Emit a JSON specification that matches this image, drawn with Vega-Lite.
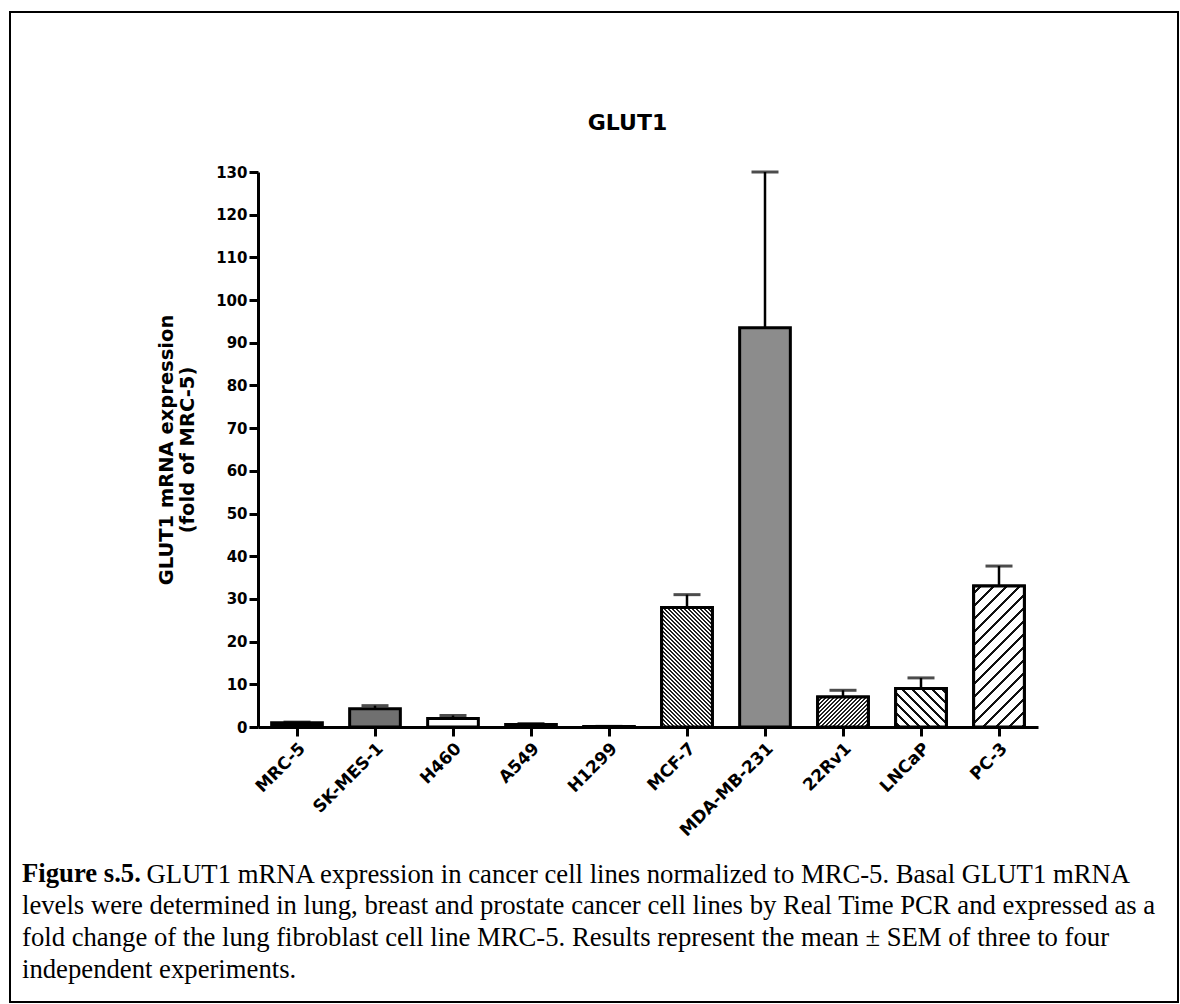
{
  "$schema": "https://vega.github.io/schema/vega-lite/v6.json",
  "autosize": "none",
  "width": 1168,
  "height": 990,
  "padding": {"left": 10, "top": 12, "right": 2, "bottom": 2},
  "background": "white",
  "config": {
    "view": {"stroke": "black", "strokeWidth": 2},
    "axis": {"grid": false}
  },
  "title": {
    "text": "Figure s.5.",
    "subtitle": [
      "levels were determined in lung, breast and prostate cancer cell lines by Real Time PCR and expressed as a",
      "fold change of the lung fibroblast cell line MRC-5. Results represent the mean ± SEM of three to four",
      "independent experiments."
    ],
    "orient": "bottom",
    "anchor": "start",
    "frame": "group",
    "offset": -141,
    "dx": 12,
    "font": "Liberation Serif",
    "fontSize": 26.7,
    "fontWeight": "bold",
    "color": "black",
    "subtitleFont": "Liberation Serif",
    "subtitleFontSize": 26.7,
    "subtitleFontWeight": "normal",
    "subtitleColor": "black",
    "subtitleLineHeight": 32,
    "subtitlePadding": 5
  },
  "data": {
    "values": [
      {"cell": "MRC-5", "value": 1.0, "err": 0.15},
      {"cell": "SK-MES-1", "value": 4.3, "err": 0.7},
      {"cell": "H460", "value": 2.0, "err": 0.7},
      {"cell": "A549", "value": 0.6, "err": 0.2},
      {"cell": "H1299", "value": 0.1, "err": 0.05},
      {"cell": "MCF-7", "value": 28.0, "err": 3.0},
      {"cell": "MDA-MB-231", "value": 93.5, "err": 36.5},
      {"cell": "22Rv1", "value": 7.0, "err": 1.6},
      {"cell": "LNCaP", "value": 9.0, "err": 2.5},
      {"cell": "PC-3", "value": 33.0, "err": 4.7}
    ]
  },
  "transform": [{"calculate": "datum.value + datum.err", "as": "upper"}],
  "resolve": {"axis": {"x": "independent"}},
  "layer": [
    {
      "mark": {"type": "bar", "stroke": "black", "strokeWidth": 3},
      "encoding": {
        "x": {
          "field": "cell", "type": "nominal", "sort": null,
          "scale": {"range": [248, 1028], "paddingInner": 0.35, "paddingOuter": 0.175},
          "axis": {
            "orient": "bottom", "offset": -275,
            "title": "GLUT1 mRNA expression in cancer cell lines normalized to MRC-5. Basal GLUT1 mRNA",
            "titleFont": "Liberation Serif", "titleFontWeight": "normal", "titleFontSize": 26.7,
            "titleColor": "black", "titleAlign": "left", "titleBaseline": "alphabetic",
            "titleX": 136, "titleY": 155,
            "domainColor": "black", "domainWidth": 3,
            "tickColor": "black", "tickWidth": 3, "tickSize": 9,
            "labelAngle": -45, "labelFont": "DejaVu Sans", "labelFontWeight": "bold",
            "labelFontSize": 17, "labelColor": "black", "labelPadding": 4
          }
        },
        "y": {
          "field": "value", "type": "quantitative",
          "scale": {"domain": [0, 130], "range": [715, 160], "nice": false},
          "axis": {
            "orient": "left", "offset": -248,
            "values": [0, 10, 20, 30, 40, 50, 60, 70, 80, 90, 100, 110, 120, 130],
            "title": ["GLUT1 mRNA expression", "(fold of MRC-5)"],
            "titleFont": "DejaVu Sans", "titleFontWeight": "bold", "titleFontSize": 19.5,
            "titleColor": "black", "titlePadding": 18, "titleLineHeight": 21,
            "domainColor": "black", "domainWidth": 3,
            "tickColor": "black", "tickWidth": 3, "tickSize": 9,
            "labelFont": "DejaVu Sans", "labelFontWeight": "bold",
            "labelFontSize": 15, "labelColor": "black", "labelPadding": 2
          }
        },
        "fill": {
          "field": "cell", "type": "nominal", "legend": null,
          "scale": {
            "domain": ["MRC-5", "SK-MES-1", "H460", "A549", "H1299", "MCF-7", "MDA-MB-231", "22Rv1", "LNCaP", "PC-3"],
            "range": ["#000000", "#707070", "#ffffff", "#000000", "#000000", "#ffffff", "#8c8c8c", "#ffffff", "#ffffff", "#ffffff"]
          }
        }
      }
    },
    {
      "transform": [{"filter": "datum.cell === 'MCF-7'"}],
      "mark": {
        "type": "bar", "stroke": "black", "strokeWidth": 3,
        "fill": {
          "gradient": "linear", "x1": 0, "y1": 1, "x2": 0.5121, "y2": -0.207,
          "stops": [
            {"offset": 0.0000, "color": "#222222"}, {"offset": 0.0106, "color": "#222222"}, {"offset": 0.0106, "color": "#ffffff"},
            {"offset": 0.0235, "color": "#ffffff"}, {"offset": 0.0235, "color": "#222222"}, {"offset": 0.0341, "color": "#222222"}, {"offset": 0.0341, "color": "#ffffff"},
            {"offset": 0.0470, "color": "#ffffff"}, {"offset": 0.0470, "color": "#222222"}, {"offset": 0.0576, "color": "#222222"}, {"offset": 0.0576, "color": "#ffffff"},
            {"offset": 0.0705, "color": "#ffffff"}, {"offset": 0.0705, "color": "#222222"}, {"offset": 0.0811, "color": "#222222"}, {"offset": 0.0811, "color": "#ffffff"},
            {"offset": 0.0940, "color": "#ffffff"}, {"offset": 0.0940, "color": "#222222"}, {"offset": 0.1046, "color": "#222222"}, {"offset": 0.1046, "color": "#ffffff"},
            {"offset": 0.1175, "color": "#ffffff"}, {"offset": 0.1175, "color": "#222222"}, {"offset": 0.1281, "color": "#222222"}, {"offset": 0.1281, "color": "#ffffff"},
            {"offset": 0.1410, "color": "#ffffff"}, {"offset": 0.1410, "color": "#222222"}, {"offset": 0.1516, "color": "#222222"}, {"offset": 0.1516, "color": "#ffffff"},
            {"offset": 0.1645, "color": "#ffffff"}, {"offset": 0.1645, "color": "#222222"}, {"offset": 0.1751, "color": "#222222"}, {"offset": 0.1751, "color": "#ffffff"},
            {"offset": 0.1880, "color": "#ffffff"}, {"offset": 0.1880, "color": "#222222"}, {"offset": 0.1986, "color": "#222222"}, {"offset": 0.1986, "color": "#ffffff"},
            {"offset": 0.2115, "color": "#ffffff"}, {"offset": 0.2115, "color": "#222222"}, {"offset": 0.2221, "color": "#222222"}, {"offset": 0.2221, "color": "#ffffff"},
            {"offset": 0.2350, "color": "#ffffff"}, {"offset": 0.2350, "color": "#222222"}, {"offset": 0.2456, "color": "#222222"}, {"offset": 0.2456, "color": "#ffffff"},
            {"offset": 0.2585, "color": "#ffffff"}, {"offset": 0.2585, "color": "#222222"}, {"offset": 0.2691, "color": "#222222"}, {"offset": 0.2691, "color": "#ffffff"},
            {"offset": 0.2820, "color": "#ffffff"}, {"offset": 0.2820, "color": "#222222"}, {"offset": 0.2926, "color": "#222222"}, {"offset": 0.2926, "color": "#ffffff"},
            {"offset": 0.3055, "color": "#ffffff"}, {"offset": 0.3055, "color": "#222222"}, {"offset": 0.3161, "color": "#222222"}, {"offset": 0.3161, "color": "#ffffff"},
            {"offset": 0.3290, "color": "#ffffff"}, {"offset": 0.3290, "color": "#222222"}, {"offset": 0.3396, "color": "#222222"}, {"offset": 0.3396, "color": "#ffffff"},
            {"offset": 0.3525, "color": "#ffffff"}, {"offset": 0.3525, "color": "#222222"}, {"offset": 0.3631, "color": "#222222"}, {"offset": 0.3631, "color": "#ffffff"},
            {"offset": 0.3760, "color": "#ffffff"}, {"offset": 0.3760, "color": "#222222"}, {"offset": 0.3866, "color": "#222222"}, {"offset": 0.3866, "color": "#ffffff"},
            {"offset": 0.3995, "color": "#ffffff"}, {"offset": 0.3995, "color": "#222222"}, {"offset": 0.4101, "color": "#222222"}, {"offset": 0.4101, "color": "#ffffff"},
            {"offset": 0.4230, "color": "#ffffff"}, {"offset": 0.4230, "color": "#222222"}, {"offset": 0.4336, "color": "#222222"}, {"offset": 0.4336, "color": "#ffffff"},
            {"offset": 0.4465, "color": "#ffffff"}, {"offset": 0.4465, "color": "#222222"}, {"offset": 0.4571, "color": "#222222"}, {"offset": 0.4571, "color": "#ffffff"},
            {"offset": 0.4700, "color": "#ffffff"}, {"offset": 0.4700, "color": "#222222"}, {"offset": 0.4806, "color": "#222222"}, {"offset": 0.4806, "color": "#ffffff"},
            {"offset": 0.4935, "color": "#ffffff"}, {"offset": 0.4935, "color": "#222222"}, {"offset": 0.5041, "color": "#222222"}, {"offset": 0.5041, "color": "#ffffff"},
            {"offset": 0.5170, "color": "#ffffff"}, {"offset": 0.5170, "color": "#222222"}, {"offset": 0.5276, "color": "#222222"}, {"offset": 0.5276, "color": "#ffffff"},
            {"offset": 0.5405, "color": "#ffffff"}, {"offset": 0.5405, "color": "#222222"}, {"offset": 0.5511, "color": "#222222"}, {"offset": 0.5511, "color": "#ffffff"},
            {"offset": 0.5640, "color": "#ffffff"}, {"offset": 0.5640, "color": "#222222"}, {"offset": 0.5746, "color": "#222222"}, {"offset": 0.5746, "color": "#ffffff"},
            {"offset": 0.5875, "color": "#ffffff"}, {"offset": 0.5875, "color": "#222222"}, {"offset": 0.5981, "color": "#222222"}, {"offset": 0.5981, "color": "#ffffff"},
            {"offset": 0.6110, "color": "#ffffff"}, {"offset": 0.6110, "color": "#222222"}, {"offset": 0.6216, "color": "#222222"}, {"offset": 0.6216, "color": "#ffffff"},
            {"offset": 0.6345, "color": "#ffffff"}, {"offset": 0.6345, "color": "#222222"}, {"offset": 0.6451, "color": "#222222"}, {"offset": 0.6451, "color": "#ffffff"},
            {"offset": 0.6580, "color": "#ffffff"}, {"offset": 0.6580, "color": "#222222"}, {"offset": 0.6686, "color": "#222222"}, {"offset": 0.6686, "color": "#ffffff"},
            {"offset": 0.6815, "color": "#ffffff"}, {"offset": 0.6815, "color": "#222222"}, {"offset": 0.6921, "color": "#222222"}, {"offset": 0.6921, "color": "#ffffff"},
            {"offset": 0.7050, "color": "#ffffff"}, {"offset": 0.7050, "color": "#222222"}, {"offset": 0.7156, "color": "#222222"}, {"offset": 0.7156, "color": "#ffffff"},
            {"offset": 0.7285, "color": "#ffffff"}, {"offset": 0.7285, "color": "#222222"}, {"offset": 0.7391, "color": "#222222"}, {"offset": 0.7391, "color": "#ffffff"},
            {"offset": 0.7520, "color": "#ffffff"}, {"offset": 0.7520, "color": "#222222"}, {"offset": 0.7626, "color": "#222222"}, {"offset": 0.7626, "color": "#ffffff"},
            {"offset": 0.7755, "color": "#ffffff"}, {"offset": 0.7755, "color": "#222222"}, {"offset": 0.7861, "color": "#222222"}, {"offset": 0.7861, "color": "#ffffff"},
            {"offset": 0.7990, "color": "#ffffff"}, {"offset": 0.7990, "color": "#222222"}, {"offset": 0.8096, "color": "#222222"}, {"offset": 0.8096, "color": "#ffffff"},
            {"offset": 0.8225, "color": "#ffffff"}, {"offset": 0.8225, "color": "#222222"}, {"offset": 0.8331, "color": "#222222"}, {"offset": 0.8331, "color": "#ffffff"},
            {"offset": 0.8460, "color": "#ffffff"}, {"offset": 0.8460, "color": "#222222"}, {"offset": 0.8566, "color": "#222222"}, {"offset": 0.8566, "color": "#ffffff"},
            {"offset": 0.8695, "color": "#ffffff"}, {"offset": 0.8695, "color": "#222222"}, {"offset": 0.8801, "color": "#222222"}, {"offset": 0.8801, "color": "#ffffff"},
            {"offset": 0.8930, "color": "#ffffff"}, {"offset": 0.8930, "color": "#222222"}, {"offset": 0.9036, "color": "#222222"}, {"offset": 0.9036, "color": "#ffffff"},
            {"offset": 0.9165, "color": "#ffffff"}, {"offset": 0.9165, "color": "#222222"}, {"offset": 0.9271, "color": "#222222"}, {"offset": 0.9271, "color": "#ffffff"},
            {"offset": 0.9400, "color": "#ffffff"}, {"offset": 0.9400, "color": "#222222"}, {"offset": 0.9506, "color": "#222222"}, {"offset": 0.9506, "color": "#ffffff"},
            {"offset": 0.9635, "color": "#ffffff"}, {"offset": 0.9635, "color": "#222222"}, {"offset": 0.9741, "color": "#222222"}, {"offset": 0.9741, "color": "#ffffff"},
            {"offset": 0.9870, "color": "#ffffff"}, {"offset": 0.9870, "color": "#222222"}, {"offset": 0.9976, "color": "#222222"}, {"offset": 0.9976, "color": "#ffffff"},
            {"offset": 1.0, "color": "#ffffff"}
          ]
        }
      },
      "encoding": {
        "x": {"field": "cell", "type": "nominal", "sort": null, "axis": null},
        "y": {"field": "value", "type": "quantitative"}
      }
    },
    {
      "transform": [{"filter": "datum.cell === '22Rv1'"}],
      "mark": {
        "type": "bar", "stroke": "black", "strokeWidth": 3,
        "fill": {
          "gradient": "linear", "x1": 0, "y1": 0, "x2": 1.1797, "y2": 0.6957,
          "stops": [
            {"offset": 0.0000, "color": "#222222"}, {"offset": 0.0248, "color": "#222222"}, {"offset": 0.0248, "color": "#ffffff"},
            {"offset": 0.0496, "color": "#ffffff"}, {"offset": 0.0496, "color": "#222222"}, {"offset": 0.0744, "color": "#222222"}, {"offset": 0.0744, "color": "#ffffff"},
            {"offset": 0.0992, "color": "#ffffff"}, {"offset": 0.0992, "color": "#222222"}, {"offset": 0.1240, "color": "#222222"}, {"offset": 0.1240, "color": "#ffffff"},
            {"offset": 0.1488, "color": "#ffffff"}, {"offset": 0.1488, "color": "#222222"}, {"offset": 0.1736, "color": "#222222"}, {"offset": 0.1736, "color": "#ffffff"},
            {"offset": 0.1984, "color": "#ffffff"}, {"offset": 0.1984, "color": "#222222"}, {"offset": 0.2232, "color": "#222222"}, {"offset": 0.2232, "color": "#ffffff"},
            {"offset": 0.2480, "color": "#ffffff"}, {"offset": 0.2480, "color": "#222222"}, {"offset": 0.2728, "color": "#222222"}, {"offset": 0.2728, "color": "#ffffff"},
            {"offset": 0.2976, "color": "#ffffff"}, {"offset": 0.2976, "color": "#222222"}, {"offset": 0.3224, "color": "#222222"}, {"offset": 0.3224, "color": "#ffffff"},
            {"offset": 0.3472, "color": "#ffffff"}, {"offset": 0.3472, "color": "#222222"}, {"offset": 0.3720, "color": "#222222"}, {"offset": 0.3720, "color": "#ffffff"},
            {"offset": 0.3968, "color": "#ffffff"}, {"offset": 0.3968, "color": "#222222"}, {"offset": 0.4216, "color": "#222222"}, {"offset": 0.4216, "color": "#ffffff"},
            {"offset": 0.4464, "color": "#ffffff"}, {"offset": 0.4464, "color": "#222222"}, {"offset": 0.4712, "color": "#222222"}, {"offset": 0.4712, "color": "#ffffff"},
            {"offset": 0.4960, "color": "#ffffff"}, {"offset": 0.4960, "color": "#222222"}, {"offset": 0.5208, "color": "#222222"}, {"offset": 0.5208, "color": "#ffffff"},
            {"offset": 0.5456, "color": "#ffffff"}, {"offset": 0.5456, "color": "#222222"}, {"offset": 0.5704, "color": "#222222"}, {"offset": 0.5704, "color": "#ffffff"},
            {"offset": 0.5952, "color": "#ffffff"}, {"offset": 0.5952, "color": "#222222"}, {"offset": 0.6200, "color": "#222222"}, {"offset": 0.6200, "color": "#ffffff"},
            {"offset": 0.6448, "color": "#ffffff"}, {"offset": 0.6448, "color": "#222222"}, {"offset": 0.6696, "color": "#222222"}, {"offset": 0.6696, "color": "#ffffff"},
            {"offset": 0.6944, "color": "#ffffff"}, {"offset": 0.6944, "color": "#222222"}, {"offset": 0.7192, "color": "#222222"}, {"offset": 0.7192, "color": "#ffffff"},
            {"offset": 0.7440, "color": "#ffffff"}, {"offset": 0.7440, "color": "#222222"}, {"offset": 0.7688, "color": "#222222"}, {"offset": 0.7688, "color": "#ffffff"},
            {"offset": 0.7936, "color": "#ffffff"}, {"offset": 0.7936, "color": "#222222"}, {"offset": 0.8184, "color": "#222222"}, {"offset": 0.8184, "color": "#ffffff"},
            {"offset": 0.8432, "color": "#ffffff"}, {"offset": 0.8432, "color": "#222222"}, {"offset": 0.8680, "color": "#222222"}, {"offset": 0.8680, "color": "#ffffff"},
            {"offset": 0.8928, "color": "#ffffff"}, {"offset": 0.8928, "color": "#222222"}, {"offset": 0.9176, "color": "#222222"}, {"offset": 0.9176, "color": "#ffffff"},
            {"offset": 0.9424, "color": "#ffffff"}, {"offset": 0.9424, "color": "#222222"}, {"offset": 0.9672, "color": "#222222"}, {"offset": 0.9672, "color": "#ffffff"},
            {"offset": 0.9920, "color": "#ffffff"}, {"offset": 0.9920, "color": "#222222"}, {"offset": 1.0, "color": "#222222"}
          ]
        }
      },
      "encoding": {
        "x": {"field": "cell", "type": "nominal", "sort": null, "axis": null},
        "y": {"field": "value", "type": "quantitative"}
      }
    },
    {
      "transform": [{"filter": "datum.cell === 'PC-3'"}],
      "mark": {
        "type": "bar", "stroke": "black", "strokeWidth": 3,
        "fill": {
          "gradient": "linear", "x1": 0, "y1": 0, "x2": 0.4332, "y2": 1.204,
          "stops": [
            {"offset": 0.0, "color": "#ffffff"},
            {"offset": 0.030, "color": "#ffffff"}, {"offset": 0.030, "color": "#111111"}, {"offset": 0.0446, "color": "#111111"}, {"offset": 0.0446, "color": "#ffffff"},
            {"offset": 0.0978, "color": "#ffffff"}, {"offset": 0.0978, "color": "#111111"}, {"offset": 0.1124, "color": "#111111"}, {"offset": 0.1124, "color": "#ffffff"},
            {"offset": 0.1656, "color": "#ffffff"}, {"offset": 0.1656, "color": "#111111"}, {"offset": 0.1802, "color": "#111111"}, {"offset": 0.1802, "color": "#ffffff"},
            {"offset": 0.2334, "color": "#ffffff"}, {"offset": 0.2334, "color": "#111111"}, {"offset": 0.2480, "color": "#111111"}, {"offset": 0.2480, "color": "#ffffff"},
            {"offset": 0.3012, "color": "#ffffff"}, {"offset": 0.3012, "color": "#111111"}, {"offset": 0.3158, "color": "#111111"}, {"offset": 0.3158, "color": "#ffffff"},
            {"offset": 0.3690, "color": "#ffffff"}, {"offset": 0.3690, "color": "#111111"}, {"offset": 0.3836, "color": "#111111"}, {"offset": 0.3836, "color": "#ffffff"},
            {"offset": 0.4368, "color": "#ffffff"}, {"offset": 0.4368, "color": "#111111"}, {"offset": 0.4514, "color": "#111111"}, {"offset": 0.4514, "color": "#ffffff"},
            {"offset": 0.5046, "color": "#ffffff"}, {"offset": 0.5046, "color": "#111111"}, {"offset": 0.5192, "color": "#111111"}, {"offset": 0.5192, "color": "#ffffff"},
            {"offset": 0.5724, "color": "#ffffff"}, {"offset": 0.5724, "color": "#111111"}, {"offset": 0.5870, "color": "#111111"}, {"offset": 0.5870, "color": "#ffffff"},
            {"offset": 0.6402, "color": "#ffffff"}, {"offset": 0.6402, "color": "#111111"}, {"offset": 0.6548, "color": "#111111"}, {"offset": 0.6548, "color": "#ffffff"},
            {"offset": 0.7080, "color": "#ffffff"}, {"offset": 0.7080, "color": "#111111"}, {"offset": 0.7226, "color": "#111111"}, {"offset": 0.7226, "color": "#ffffff"},
            {"offset": 0.7758, "color": "#ffffff"}, {"offset": 0.7758, "color": "#111111"}, {"offset": 0.7904, "color": "#111111"}, {"offset": 0.7904, "color": "#ffffff"},
            {"offset": 0.8436, "color": "#ffffff"}, {"offset": 0.8436, "color": "#111111"}, {"offset": 0.8582, "color": "#111111"}, {"offset": 0.8582, "color": "#ffffff"},
            {"offset": 0.9114, "color": "#ffffff"}, {"offset": 0.9114, "color": "#111111"}, {"offset": 0.9260, "color": "#111111"}, {"offset": 0.9260, "color": "#ffffff"},
            {"offset": 0.9792, "color": "#ffffff"}, {"offset": 0.9792, "color": "#111111"}, {"offset": 0.9938, "color": "#111111"}, {"offset": 0.9938, "color": "#ffffff"},
            {"offset": 1.0, "color": "#ffffff"}
          ]
        }
      },
      "encoding": {
        "x": {"field": "cell", "type": "nominal", "sort": null, "axis": null},
        "y": {"field": "value", "type": "quantitative"}
      }
    },
    {
      "transform": [{"filter": "datum.cell === 'LNCaP'"}],
      "mark": {
        "type": "bar", "stroke": "black", "strokeWidth": 3,
        "fill": {
          "gradient": "linear", "x1": 0, "y1": 1, "x2": 1.1167, "y2": 0.1542,
          "stops": [
            {"offset": 0.0, "color": "#ffffff"},
            {"offset": 0.030, "color": "#ffffff"}, {"offset": 0.030, "color": "#111111"}, {"offset": 0.069, "color": "#111111"}, {"offset": 0.069, "color": "#ffffff"},
            {"offset": 0.1422, "color": "#ffffff"}, {"offset": 0.1422, "color": "#111111"}, {"offset": 0.1812, "color": "#111111"}, {"offset": 0.1812, "color": "#ffffff"},
            {"offset": 0.2544, "color": "#ffffff"}, {"offset": 0.2544, "color": "#111111"}, {"offset": 0.2934, "color": "#111111"}, {"offset": 0.2934, "color": "#ffffff"},
            {"offset": 0.3666, "color": "#ffffff"}, {"offset": 0.3666, "color": "#111111"}, {"offset": 0.4056, "color": "#111111"}, {"offset": 0.4056, "color": "#ffffff"},
            {"offset": 0.4788, "color": "#ffffff"}, {"offset": 0.4788, "color": "#111111"}, {"offset": 0.5178, "color": "#111111"}, {"offset": 0.5178, "color": "#ffffff"},
            {"offset": 0.5910, "color": "#ffffff"}, {"offset": 0.5910, "color": "#111111"}, {"offset": 0.6300, "color": "#111111"}, {"offset": 0.6300, "color": "#ffffff"},
            {"offset": 0.7032, "color": "#ffffff"}, {"offset": 0.7032, "color": "#111111"}, {"offset": 0.7422, "color": "#111111"}, {"offset": 0.7422, "color": "#ffffff"},
            {"offset": 0.8154, "color": "#ffffff"}, {"offset": 0.8154, "color": "#111111"}, {"offset": 0.8544, "color": "#111111"}, {"offset": 0.8544, "color": "#ffffff"},
            {"offset": 0.9276, "color": "#ffffff"}, {"offset": 0.9276, "color": "#111111"}, {"offset": 0.9666, "color": "#111111"}, {"offset": 0.9666, "color": "#ffffff"},
            {"offset": 1.0, "color": "#ffffff"}
          ]
        }
      },
      "encoding": {
        "x": {"field": "cell", "type": "nominal", "sort": null, "axis": null},
        "y": {"field": "value", "type": "quantitative"}
      }
    },
    {
      "mark": {"type": "rule", "stroke": "black", "strokeWidth": 2.5},
      "encoding": {
        "x": {
          "field": "cell", "type": "nominal", "sort": null,
          "axis": {
            "orient": "top", "offset": -122, "title": "GLUT1",
            "labels": false, "ticks": false, "domain": false,
            "titleFont": "DejaVu Sans", "titleFontWeight": "bold", "titleFontSize": 22,
            "titleColor": "black", "titlePadding": 0, "titleX": 617
          }
        },
        "y": {"field": "value", "type": "quantitative"},
        "y2": {"field": "upper"}
      }
    },
    {
      "mark": {"type": "tick", "color": "black", "size": 27, "thickness": 3, "orient": "horizontal"},
      "encoding": {
        "x": {"field": "cell", "type": "nominal", "sort": null, "axis": null},
        "y": {"field": "upper", "type": "quantitative"}
      }
    }
  ]
}
